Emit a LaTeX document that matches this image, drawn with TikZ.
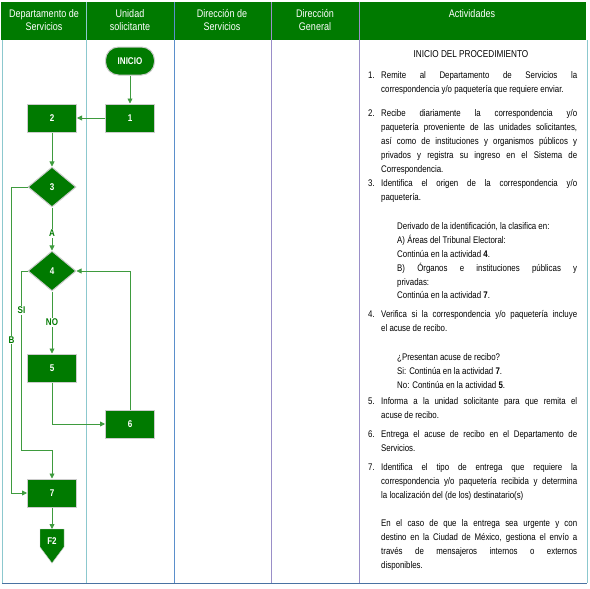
\documentclass[tikz,border=0pt]{standalone}
\usepackage{fontspec}
\setmainfont[FakeStretch=0.82]{Liberation Sans}
\usetikzlibrary{arrows.meta,shapes.geometric,positioning,calc}
\usepackage{xcolor}
\definecolor{verde}{HTML}{007A00}
\definecolor{linea}{HTML}{3E9B3E}
\definecolor{carril}{HTML}{8CC8CE}
\definecolor{azul}{HTML}{5B8FCB}
\definecolor{lila}{HTML}{9A8FC8}
\setlength{\parindent}{0pt}
\hyphenpenalty=10000
\tolerance=9999
\newcommand{\paso}[2]{\hangindent=13pt\hangafter=1\strut\makebox[13pt][l]{#1}#2\par}

\tikzset{
  proceso/.style={rectangle, fill=verde, draw=black!20, line width=1pt, minimum width=49pt, minimum height=28pt, text=white, font=\bfseries\fontsize{9.8}{10}\selectfont},
  decision/.style={diamond, fill=verde, draw=black!20, line width=1pt, minimum width=48pt, minimum height=40pt, inner sep=0pt, text=white, font=\bfseries\fontsize{9.8}{10}\selectfont},
  terminal/.style={proceso, rounded corners=13pt},
  flecha/.style={draw=linea, line width=0.8pt, ->},
  etiqueta/.style={fill=white, text=verde, inner sep=1pt, font=\bfseries\fontsize{9.8}{10}\selectfont},
  encabezado/.style={text=white, align=center, font=\fontsize{11}{13}\selectfont},
  actividad/.style={anchor=north west, inner sep=0pt, text width=209pt, align=justify, font=\fontsize{9.6}{13.8}\selectfont}
}

\begin{document}
\begin{tikzpicture}[x=1pt, y=-1pt, >={Triangle[length=5pt,width=5pt]}]
    \useasboundingbox (0,0) rectangle (590,589);

    % Encabezado
    \fill[verde] (1,2) rectangle (586,40);
    \node[encabezado] (h1) at (44,20) {Departamento de\\Servicios};
    \node[encabezado] (h2) at (130,20) {Unidad\\solicitante};
    \node[encabezado] (h3) at (222,20) {Dirección de\\Servicios};
    \node[encabezado] (h4) at (315,20) {Dirección\\General};
    \node[encabezado] (h5) at (472,14) {Actividades};

    % Carriles
    \draw[carril] (2,40) -- (2,583);
    \draw[carril] (86,2) -- (86,583);
    \draw[azul] (174,2) -- (174,583);
    \draw[lila] (271,2) -- (271,583);
    \draw[lila] (359,2) -- (359,583);
    \draw[carril] (587,40) -- (587,583);
    \draw[azul!80!black, line width=0.8pt] (2,583) -- (587,583);

    % Nodos
    \node[terminal] (inicio) at (130,61) {INICIO};
    \node[proceso] (p1) at (130,118) {1};
    \node[proceso] (p2) at (52,118) {2};
    \node[decision] (d3) at (52,187) {3};
    \node[decision] (d4) at (52,271) {4};
    \node[proceso] (p5) at (52,368) {5};
    \node[proceso] (p6) at (130,424) {6};
    \node[proceso] (p7) at (52,493) {7};
    \coordinate (f2top) at (52,529);
    \fill[verde, draw=black!20] (40,529) -- (64,529) -- (64,547) -- (52,563) -- (40,547) -- cycle;
    \node[text=white, font=\bfseries\fontsize{9.8}{10}\selectfont] (f2) at (52,541) {F2};

    % Conectores
    \draw[flecha] (inicio) -- (p1);
    \draw[flecha] (p1) -- (p2);
    \draw[flecha] (p2) -- (d3);
    \draw[flecha] (d3) -- node[etiqueta, pos=0.6] {A} (d4);
    \draw[flecha] (d3.west) -- ++(-16,0) |- node[etiqueta, pos=0.25] {B} (p7.west);
    \draw[flecha] (d4.west) -- ++(-6,0) |- node[etiqueta, pos=0.11] {SI} ($(p7.north)+(0,-28)$) -- (p7.north);
    \draw[flecha] (d4) -- node[etiqueta] {NO} (p5);
    \draw[flecha] (p5.south) |- (p6.west);
    \draw[flecha] (p6.north) |- (d4.east);
    \draw[flecha] (p7) -- (f2top);

    % Actividades
    \node[font=\fontsize{10}{10}\selectfont] (titulo) at (471,54) {INICIO DEL PROCEDIMIENTO};
    \node[actividad] (a1) at (368,69) {\paso{1.}{Remite al Departamento de Servicios la\linebreak correspondencia y/o paquetería que requiere enviar.}};
    \node[actividad] (a2) at (368,107) {\paso{2.}{Recibe diariamente la correspondencia y/o\linebreak paquetería proveniente de las unidades solicitantes,\linebreak así como de instituciones y organismos públicos y\linebreak privados y registra su ingreso en el Sistema de\linebreak Correspondencia.}};
    \node[actividad] (a3) at (368,177) {\paso{3.}{Identifica el origen de la correspondencia y/o\linebreak paquetería.}};
    \node[actividad, text width=180pt] (a3b) at (397,220) {\strut Derivado de la identificación, la clasifica en:\\ A) Áreas del Tribunal Electoral:\\ Continúa en la actividad \textbf{4}.\\ B) Órganos e instituciones públicas y\linebreak privadas:\\ Continúa en la actividad \textbf{7}.};
    \node[actividad] (a4) at (368,308) {\paso{4.}{Verifica si la correspondencia y/o paquetería incluye\linebreak el acuse de recibo.}};
    \node[actividad, text width=180pt] (a4b) at (397,351) {\strut ¿Presentan acuse de recibo?\\ Si: Continúa en la actividad \textbf{7}.\\ No: Continúa en la actividad \textbf{5}.};
    \node[actividad] (a5) at (368,395) {\paso{5.}{Informa a la unidad solicitante para que remita el\linebreak acuse de recibo.}};
    \node[actividad] (a6) at (368,428) {\paso{6.}{Entrega el acuse de recibo en el Departamento de\linebreak Servicios.}};
    \node[actividad] (a7) at (368,461) {\paso{7.}{Identifica el tipo de entrega que requiere la\linebreak correspondencia y/o paquetería recibida y determina\linebreak la localización del (de los) destinatario(s)}};
    \node[actividad, text width=196pt] (a7b) at (381,517) {\strut En el caso de que la entrega sea urgente y con\linebreak destino en la Ciudad de México, gestiona el envío a\linebreak través de mensajeros internos o externos\linebreak disponibles.};
\end{tikzpicture}
\end{document}
